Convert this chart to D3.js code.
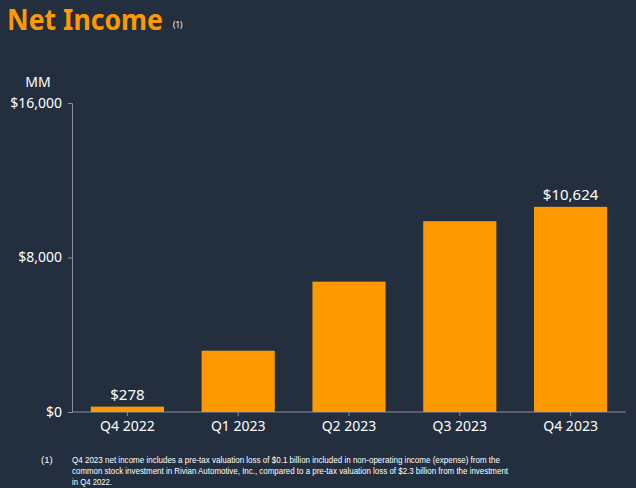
<!DOCTYPE html>
<html>
<head>
<meta charset="utf-8">
<script src="https://cdn.jsdelivr.net/npm/d3@7"></script>
<style>
  body { margin: 0; background: #232f3e; }
  text { font-family: "Noto Sans", "Open Sans", sans-serif; }
</style>
</head>
<body>
<div class="chart"></div>
<script>
// quarters and net income (MM)
var quarters = ["Q4 2022", "Q1 2023", "Q2 2023", "Q3 2023", "Q4 2023"];
var netIncome = [278, 3172, 6750, 9879, 10624];
var yTicks = [0, 8000, 16000];
// only first and last bars carry a value label
var labelled = [true, false, false, false, true];
var footnote = [
  "Q4 2023 net income includes a pre-tax valuation loss of $0.1 billion included in non-operating income (expense) from the",
  "common stock investment in Rivian Automotive, Inc., compared to a pre-tax valuation loss of $2.3 billion from the investment",
  "in Q4 2022."
];
// widths of the footnote lines as printed
var footnoteWidths = [428, 436, 40];

var svgWidth = 636;
var svgHeight = 488;

var svg = d3.select(".chart")
    .append("svg")
    .attr("width", svgWidth)
    .attr("height", svgHeight);

svg.append("rect")
    .attr("width", svgWidth)
    .attr("height", svgHeight)
    .attr("fill", "#232f3e");

// title
svg.append("text")
    .attr("x", 7)
    .attr("y", 30)
    .attr("fill", "#ff9900")
    .attr("font-size", 28)
    .attr("font-weight", "bold")
    .attr("textLength", 156)
    .attr("lengthAdjust", "spacingAndGlyphs")
    .text("Net Income");

svg.append("text")
    .attr("x", 173)
    .attr("y", 28)
    .attr("fill", "#ffffff")
    .attr("font-size", 8)
    .text("(1)");

var margin = { top: 103, left: 72, right: 10 };
var height = 412 - margin.top;
var width = svgWidth - margin.left - margin.right;

var chartGroup = svg.append("g")
    .attr("transform", `translate(${margin.left}, ${margin.top})`);

var xBandScale = d3.scaleBand()
    .domain(quarters)
    .range([0, width])
    .paddingInner(0.34)
    .paddingOuter(0.17);

var yLinearScale = d3.scaleLinear()
    .domain([0, 16000])
    .range([height, 0]);

var leftAxis = d3.axisLeft(yLinearScale)
    .tickValues(yTicks)
    .tickSize(4)
    .tickPadding(6)
    .tickFormat(d => "$" + d3.format(",")(d));

var bottomAxis = d3.axisBottom(xBandScale)
    .tickSize(4)
    .tickPadding(5);

var yAxis = chartGroup.append("g").call(leftAxis);
var xAxis = chartGroup.append("g")
    .attr("transform", `translate(0, ${height})`)
    .call(bottomAxis);

[yAxis, xAxis].forEach(function(ax) {
  ax.select(".domain").attr("stroke", "#8a9099");
  ax.selectAll(".tick line").attr("stroke", "#8a9099");
  ax.selectAll(".tick text")
      .attr("fill", "#ffffff")
      .attr("font-size", 14)
      .style("font-family", "'Noto Sans', sans-serif");
});
xAxis.select(".domain").attr("d", `M0,0H${width}`);

// bars
chartGroup.selectAll("rect.bar")
    .data(netIncome)
    .enter()
    .append("rect")
    .attr("class", "bar")
    .attr("x", (d, i) => xBandScale(quarters[i]))
    .attr("y", d => yLinearScale(d))
    .attr("width", xBandScale.bandwidth())
    .attr("height", d => height - yLinearScale(d))
    .attr("fill", "#ff9900");

// value labels
chartGroup.selectAll("text.value")
    .data(netIncome.filter((d, i) => labelled[i]).map(function(d) {
      return { q: quarters[netIncome.indexOf(d)], v: d };
    }))
    .enter()
    .append("text")
    .attr("class", "value")
    .attr("x", d => xBandScale(d.q) + xBandScale.bandwidth() / 2)
    .attr("y", d => yLinearScale(d.v) - 7)
    .attr("text-anchor", "middle")
    .attr("fill", "#ffffff")
    .attr("font-size", 15)
    .text(d => "$" + d3.format(",")(d.v));

// MM unit label
svg.append("text")
    .attr("x", 38)
    .attr("y", 87)
    .attr("text-anchor", "middle")
    .attr("fill", "#ffffff")
    .attr("font-size", 14)
    .text("MM");

// footnote
svg.append("text")
    .attr("x", 41)
    .attr("y", 463)
    .attr("fill", "#ffffff")
    .attr("font-size", 9.5)
    .style("font-family", "'Liberation Sans', sans-serif")
    .text("(1)");

svg.append("g").selectAll("text")
    .data(footnote)
    .enter()
    .append("text")
    .attr("x", 72)
    .attr("y", (d, i) => 463 + i * 11.2)
    .attr("fill", "#ffffff")
    .attr("font-size", 9.5)
    .attr("textLength", (d, i) => footnoteWidths[i])
    .attr("lengthAdjust", "spacingAndGlyphs")
    .style("font-family", "'Liberation Sans', sans-serif")
    .text(d => d);
</script>
</body>
</html>
